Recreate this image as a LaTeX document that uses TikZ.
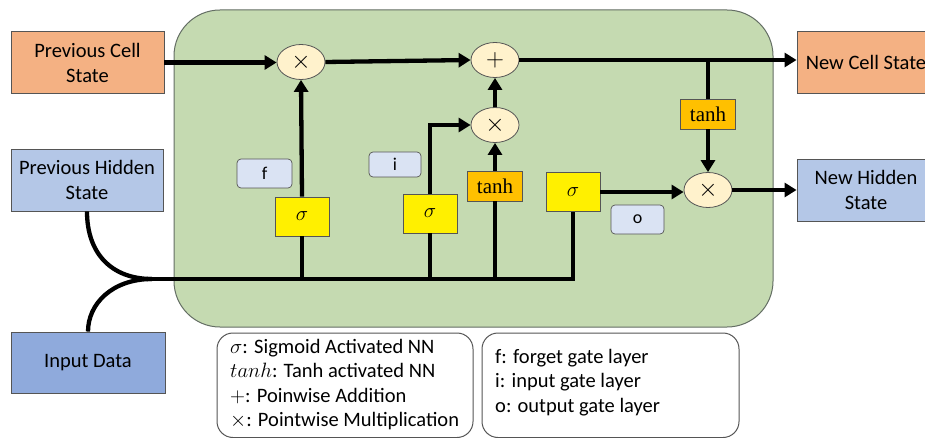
\documentclass[tikz,border=0pt]{standalone}
\usepackage{fontspec}
\setmainfont{Carlito}
\newfontfamily\layerfont{Liberation Serif}
\usetikzlibrary{arrows.meta,shapes.geometric,calc}

\definecolor{cellgreen}{RGB}{197,218,177}
\definecolor{celledge}{RGB}{100,110,100}
\definecolor{statebox}{RGB}{244,177,131}
\definecolor{hiddenbox}{RGB}{180,199,231}
\definecolor{inputbox}{RGB}{143,170,220}
\definecolor{opfill}{RGB}{255,242,204}
\definecolor{sigfill}{RGB}{255,240,0}
\definecolor{tanhfill}{RGB}{255,192,0}
\definecolor{tagfill}{RGB}{218,227,243}
\definecolor{edgegray}{RGB}{85,85,85}

\tikzset{
  iobox/.style={draw=edgegray, line width=0.9pt, minimum width=#1, minimum height=62pt,
    align=center, inner sep=0pt, font=\fontsize{20.5}{25}\selectfont},
  opnode/.style={ellipse, draw=edgegray, line width=0.8pt, fill=opfill,
    minimum width=48pt, minimum height=35pt, inner sep=0pt, font=\fontsize{25}{25}\selectfont},
  sigbox/.style={draw=edgegray, line width=0.8pt, fill=sigfill, minimum width=54pt,
    minimum height=39pt, inner sep=0pt, font=\fontsize{22}{22}\selectfont},
  tanhbox/.style={draw=edgegray, line width=0.8pt, fill=tanhfill, minimum width=55pt,
    minimum height=30pt, inner sep=0pt, font=\layerfont\fontsize{21}{21}\selectfont},
  gatetag/.style={draw=edgegray, line width=0.7pt, fill=tagfill, rounded corners=4pt,
    minimum width=#1, inner sep=0pt, font=\fontsize{18}{18}\selectfont},
  flow/.style={line width=4.3pt, -{Triangle[length=12pt,width=14pt]}},
  wire/.style={line width=4.3pt},
  legend/.style={draw=edgegray, line width=1pt, rounded corners=16pt},
  legtext/.style={anchor=north west, align=left, inner sep=0pt,
    font=\fontsize{20.5}{24.3}\selectfont}
}

\begin{document}
\begin{tikzpicture}[x=1pt,y=-1pt]
\useasboundingbox (0,0) rectangle (925,438);
\clip (0,0) rectangle (925,438);
\fill[white] (0,0) rectangle (925,438);

% LSTM cell body
\draw[fill=cellgreen, draw=celledge, line width=1pt, rounded corners=46pt]
  (174,10) rectangle (773,327);

% external states
\node[iobox=153pt, fill=statebox] (pcs) at (87.5,62.5) {Previous Cell\\State};
\node[iobox=152pt, fill=hiddenbox] (phs) at (87,180) {Previous Hidden\\State};
\node[iobox=154pt, fill=inputbox, minimum height=61pt] (inp) at (88,362.5) {Input Data};
\node[iobox=138pt, fill=statebox] (ncs) at (866,62.5) {New Cell State};
\node[iobox=138pt, fill=hiddenbox] (nhs) at (866,190) {New Hidden\\State};

% pointwise operations
\node[opnode] (fmul) at (301,62) {$\times$};
\node[opnode] (plus) at (495,60) {$+$};
\node[opnode] (imul) at (495,125) {$\times$};
\node[opnode] (omul) at (708,190) {$\times$};

% neural network layers
\node[sigbox] (fsig) at (302,216.5) {$\sigma$};
\node[sigbox] (isig) at (430,213.5) {$\sigma$};
\node[tanhbox] (itanh) at (495,186) {tanh};
\node[sigbox] (osig) at (573,192) {$\sigma$};
\node[tanhbox] (otanh) at (708,114) {tanh};

% gate tags
\node[gatetag=55pt, minimum height=29pt] (ftag) at (264.5,173.5) {f};
\node[gatetag=52pt, minimum height=25pt] (itag) at (395,164.5) {i};
\node[gatetag=53pt, minimum height=29pt] (otag) at (637.5,219.5) {o};

% shared input bus
\coordinate (join) at (152,279);
\draw[wire] (phs.south) .. controls (87,254) and (112,279) .. (join);
\draw[wire] (inp.north) .. controls (88,304) and (112,279) .. (join);
\draw[wire, line join=miter] (join) -| (osig.south);
\draw[wire] (fsig.south) -- (fsig.south |- join);
\draw[wire] (isig.south) -- (isig.south |- join);
\draw[wire] (itanh.south) -- (itanh.south |- join);

% cell state line
\draw[flow] (pcs.east) -- (pcs.east -| fmul.west);
\draw[flow] (fmul.east) -- (plus.west);
\draw[flow] (plus.east) -- (plus.east -| ncs.west);
\coordinate (tap) at (otanh.north |- plus.east);
\draw[wire] (tap) -- (otanh.north);

% gate connections
\draw[flow] (fsig.north) -- (fmul.south);
\draw[flow, line join=miter] (isig.north) |- (imul.west);
\draw[flow] (itanh.north) -- (imul.south);
\draw[flow] (imul.north) -- (plus.south);
\draw[flow] (otanh.south) -- (omul.north);
\draw[flow] (osig.east) -- (osig.east -| omul.west);
\draw[flow] (omul.east) -- (omul.east -| nhs.west);

% legends
\draw[legend] (217,333) rectangle (473,437.5);
\draw[legend] (482,333) rectangle (739,437.5);
\node[legtext] (legl) at (230,339) {$\sigma$: Sigmoid Activated NN\\$tanh$: Tanh activated NN\\$+$: Poinwise Addition\\$\times$: Pointwise Multiplication};
\node[legtext] (legr) at (495,349) {f: forget gate layer\\i: input gate layer\\o: output gate layer};
\end{tikzpicture}
\end{document}
